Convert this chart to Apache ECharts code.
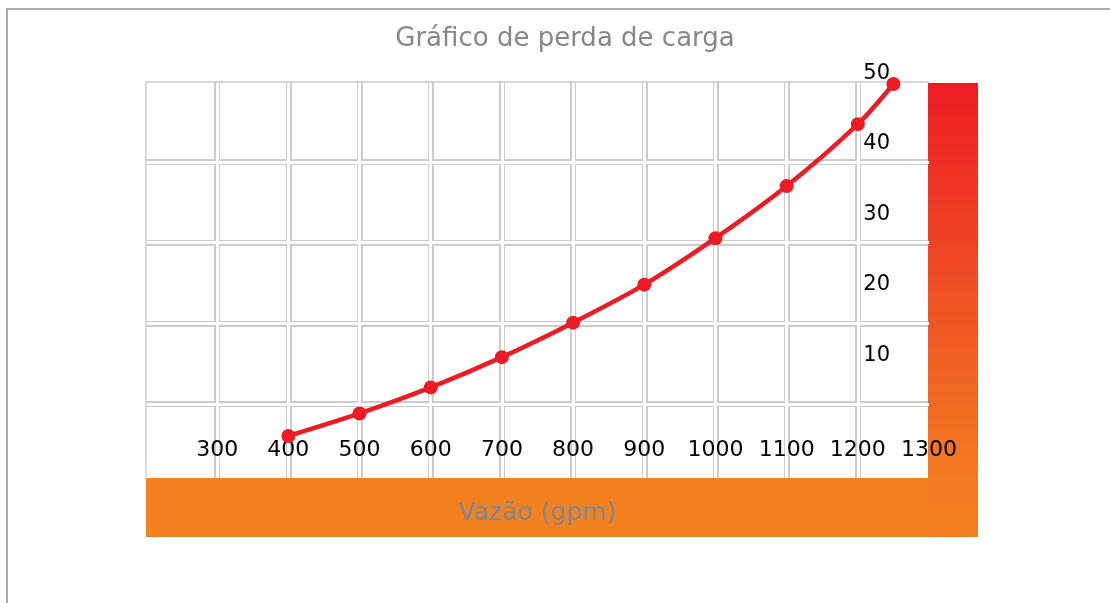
<!DOCTYPE html>
<html>
<head>
<meta charset="utf-8">
<title>Gráfico de perda de carga</title>
<script src="https://cdn.jsdelivr.net/npm/echarts@6/dist/echarts.min.js"></script>
<style>
  html, body { margin: 0; padding: 0; background: #fff; }
  #frame {
    position: absolute; left: 6px; top: 8px; width: 1110px; height: 600px;
    border-top: 2px solid #a9a9a9; border-left: 2px solid #a9a9a9;
  }
  #chart { position: absolute; left: 0; top: 0; width: 1110px; height: 603px; }
</style>
</head>
<body>
<div id="frame"></div>
<div id="chart"></div>
<script>
// vazão (gpm) x perda de carga
const flowTicks = ["300", "400", "500", "600", "700", "800", "900", "1000", "1100", "1200", "1300"];
const lossTicks = ["10", "20", "30", "40", "50"];
const flowValues = [400, 500, 600, 700, 800, 900, 1000, 1100, 1200, 1250];
const headLoss = [0, 3.2, 6.9, 11.2, 16.1, 21.5, 28.1, 35.5, 44.3, 50];

const FONT = "DejaVu Sans";
const RED = "#ed1c24";
const ORANGE = "#f48120";
const CELL_LINE = "#cccccc";

// cell background grid: gray wide line with a white line on top => two borders + gap
const cellX = (color, width, z, border) => ({
  gridIndex: 0,
  type: "value",
  position: "top",
  min: 200,
  max: 1300,
  interval: 100,
  z: z,
  axisLine: border ? { show: true, lineStyle: { color: CELL_LINE, width: 1.5 } } : { show: false },
  axisTick: { show: false },
  axisLabel: { show: false },
  splitLine: {
    show: true,
    showMinLine: false,
    showMaxLine: false,
    lineStyle: { color: color, width: width },
  },
});

const cellY = (color, width, z, border) => ({
  gridIndex: 0,
  type: "value",
  position: "left",
  inverse: true,
  min: 0,
  max: 4.92,
  interval: 1,
  z: z,
  axisLine: border ? { show: true, lineStyle: { color: CELL_LINE, width: 1.5 } } : { show: false },
  axisTick: { show: false },
  axisLabel: { show: false },
  splitLine: {
    show: true,
    showMinLine: false,
    showMaxLine: false,
    lineStyle: { color: color, width: width },
  },
});

const chart = echarts.init(document.getElementById("chart"));

chart.setOption({
  animation: false,
  backgroundColor: "transparent",
  textStyle: { fontFamily: FONT },
  title: {
    text: "Gráfico de perda de carga",
    left: 560,
    top: 21,
    textAlign: "center",
    textStyle: { fontFamily: FONT, fontSize: 26, fontWeight: "normal", color: "#878787" },
  },
  grid: [
    { left: 146, right: 181, top: 81.5, bottom: 125 },
    { left: 146, right: 181, top: 84, bottom: 167 },
  ],
  graphic: [
    {
      type: "rect",
      z: 1,
      shape: { x: 146, y: 478, width: 832, height: 59 },
      style: { fill: ORANGE },
    },
    {
      type: "rect",
      z: 1,
      shape: { x: 928, y: 83, width: 50, height: 454 },
      style: {
        fill: new echarts.graphic.LinearGradient(0, 0, 0, 1, [
          { offset: 0, color: RED },
          { offset: 0.5, color: "#ef5523" },
          { offset: 0.87, color: "#f47b21" },
          { offset: 1, color: ORANGE },
        ]),
      },
    },
  ],
  xAxis: [
    cellX(CELL_LINE, 6, 0, false),
    cellX("#ffffff", 3, 1, true),
    {
      gridIndex: 1,
      type: "value",
      min: 200,
      max: 1300,
      interval: 100,
      z: 3,
      name: "Vazão (gpm)",
      nameLocation: "middle",
      nameGap: 65,
      nameTextStyle: { fontFamily: FONT, fontSize: 25, color: "#7d8791" },
      axisLine: { show: false },
      axisTick: { show: false },
      splitLine: { show: false },
      axisLabel: {
        margin: 3,
        fontFamily: FONT,
        fontSize: 22,
        color: "#000",
        formatter: (v) => (flowTicks.includes(String(v)) ? String(v) : ""),
      },
    },
  ],
  yAxis: [
    cellY(CELL_LINE, 6, 0, false),
    cellY("#ffffff", 3, 1, true),
    {
      gridIndex: 1,
      type: "value",
      position: "right",
      min: 0,
      max: 50,
      interval: 10,
      z: 3,
      axisLine: { show: false },
      axisTick: { show: false },
      splitLine: { show: false },
      axisLabel: {
        inside: true,
        margin: 39,
        verticalAlign: "bottom",
        fontFamily: FONT,
        fontSize: 21,
        color: "#000",
        formatter: (v) => (lossTicks.includes(String(v)) ? String(v) : ""),
      },
    },
  ],
  series: [
    {
      type: "line",
      xAxisIndex: 2,
      yAxisIndex: 2,
      z: 5,
      smooth: 0.3,
      symbol: "circle",
      symbolSize: 14,
      data: flowValues.map((x, i) => [x, headLoss[i]]),
      lineStyle: { color: RED, width: 4.5 },
      itemStyle: { color: RED },
    },
  ],
});
</script>
</body>
</html>
